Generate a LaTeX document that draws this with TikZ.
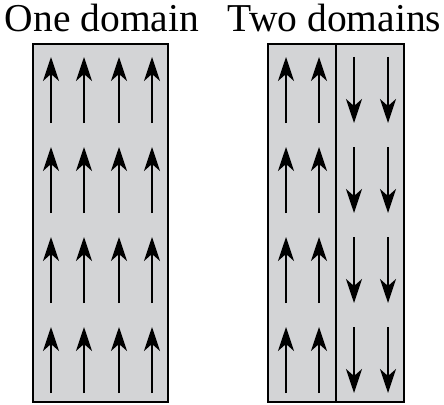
\documentclass[tikz,border=0pt]{standalone}
\usepackage{fontspec}
\setmainfont{Liberation Serif}
\usetikzlibrary{arrows.meta}
\definecolor{boxgray}{RGB}{211,212,214}
\tikzset{
	box/.style={fill=boxgray, draw=black, line width=1.6pt},
	wall/.style={draw=black, line width=1.6pt},
	spin/.style={line width=1.6pt, -{Stealth[length=24pt, width=16pt, inset=7pt]}},
	title/.style={font=\fontsize{39.5}{40}\selectfont, anchor=base, inner sep=0pt},
}
\begin{document}
\begin{tikzpicture}[x=1pt, y=-1pt]
	\useasboundingbox (0,0) rectangle (444,404);

	\node [title] (one) at (102,32) {One domain};
	\node [title] (two) at (334.5,32) {Two domains};

	\draw [box] (33,44) rectangle (168,402);
	\draw [box] (268,44) rectangle (404,402);
	\draw [wall] (336,44) -- (336,402);

	\foreach \y in {57,147,237,327} {
		\foreach \x in {51,84,119,152}
			\draw [spin] (\x,\y+66) -- (\x,\y);
		\foreach \x in {286,319}
			\draw [spin] (\x,\y+66) -- (\x,\y);
		\foreach \x in {354,388}
			\draw [spin] (\x,\y) -- (\x,\y+66);
	}
\end{tikzpicture}
\end{document}
